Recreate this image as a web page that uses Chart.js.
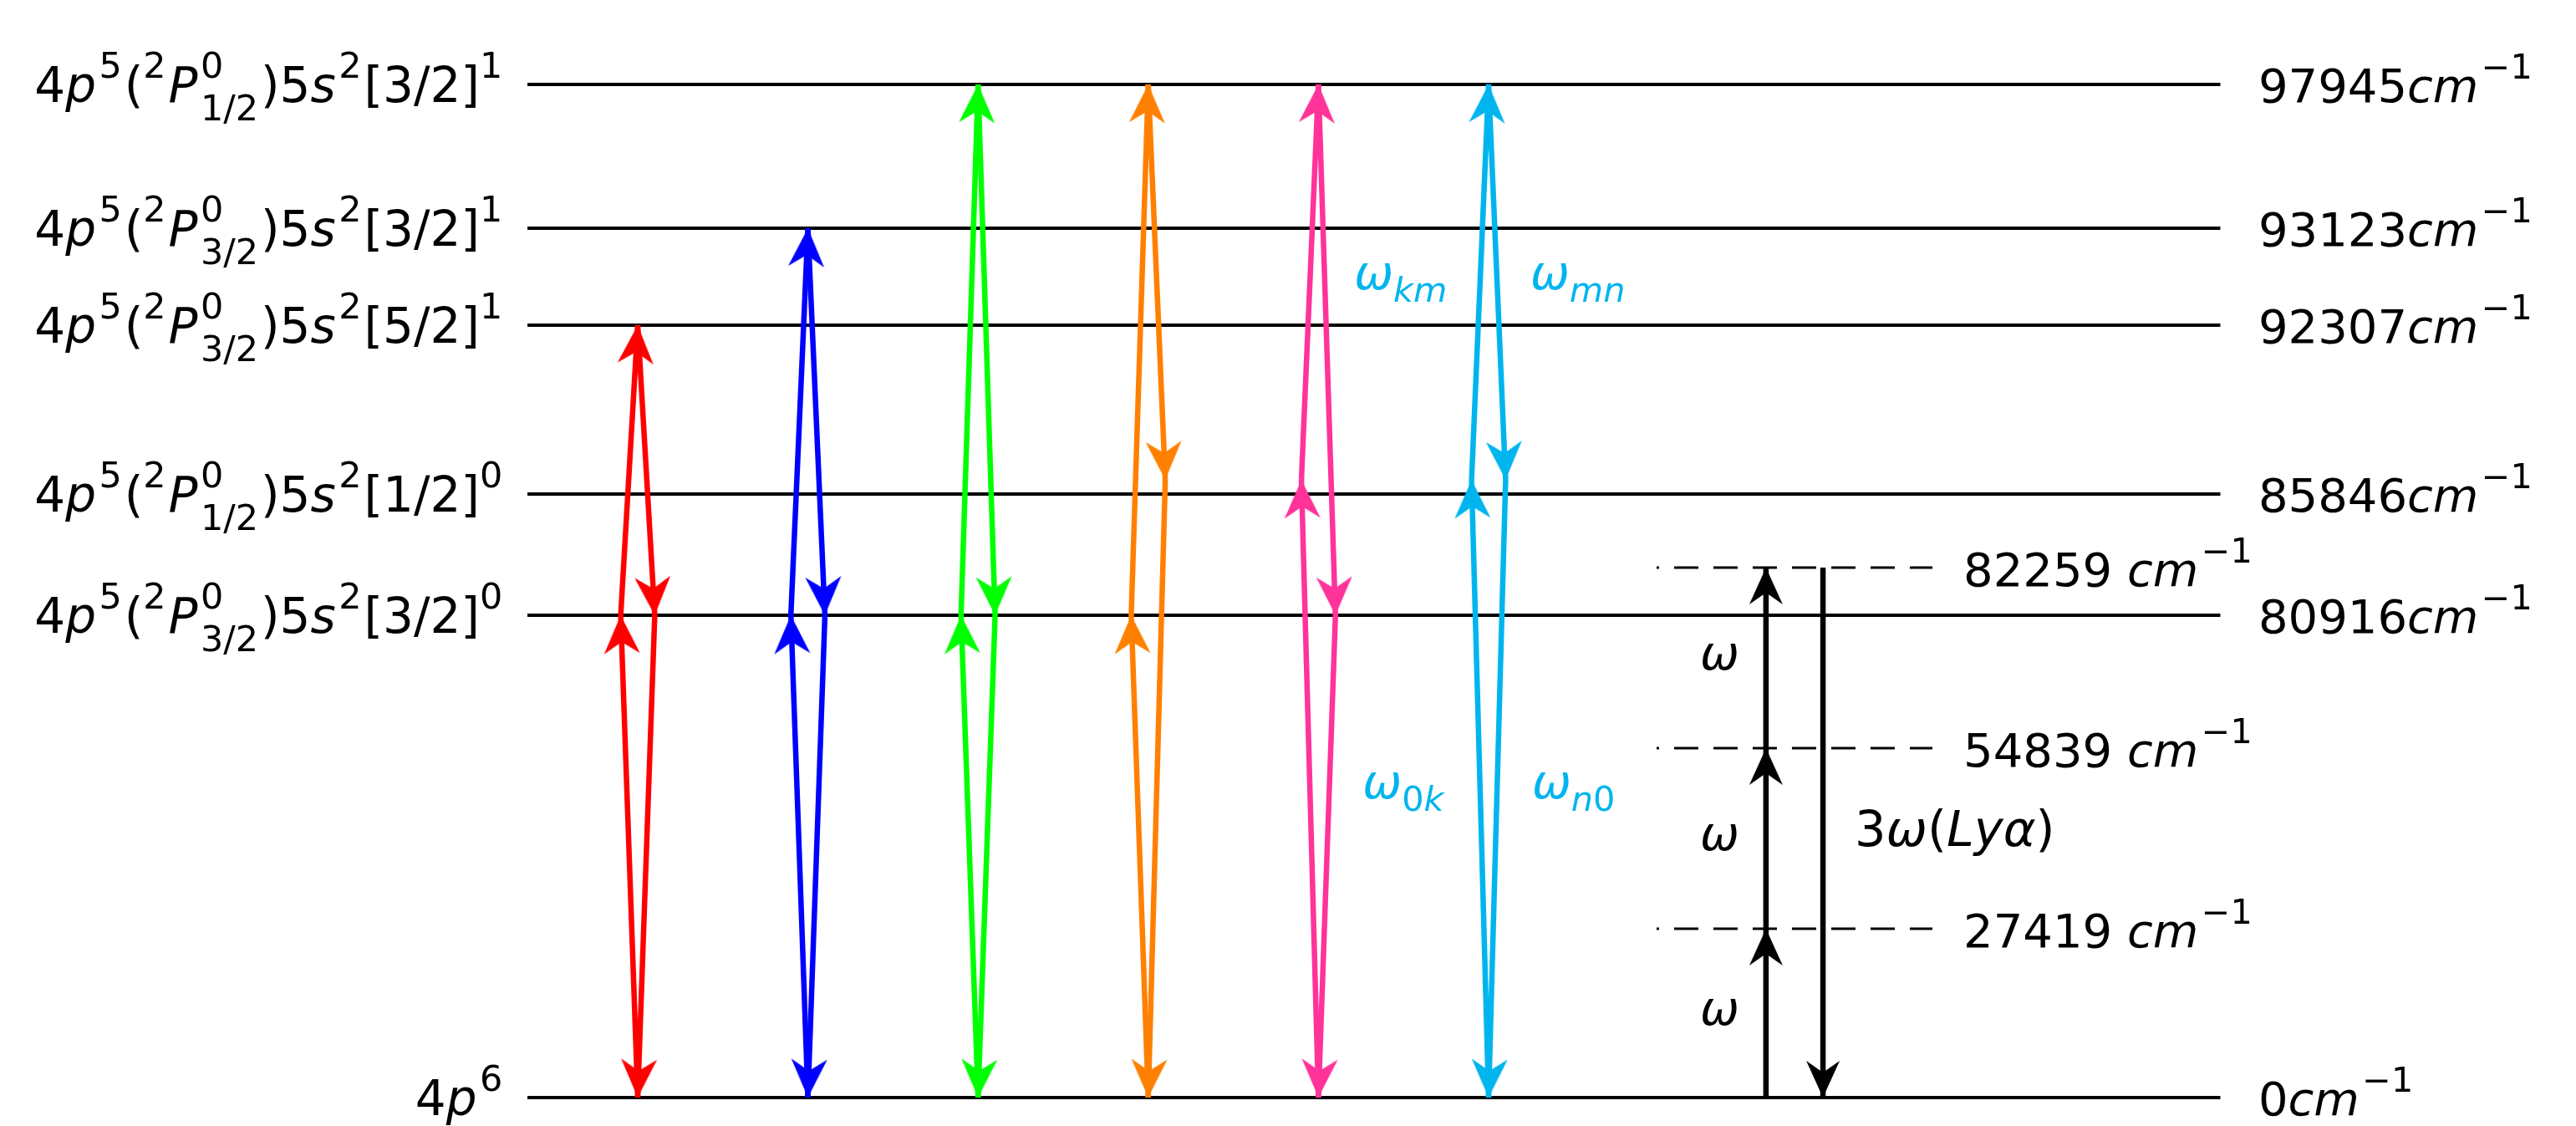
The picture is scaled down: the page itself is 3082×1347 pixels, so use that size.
<!DOCTYPE html>
<html>
<head>
<meta charset="utf-8">
<script src="https://cdn.jsdelivr.net/npm/chart.js@4.4.1/dist/chart.umd.min.js"></script>
<style>
  html, body { margin: 0; padding: 0; background: #fff; }
  #caja { width: 3082px; height: 1347px; }
</style>
</head>
<body>
<div id="caja"><canvas id="diagrama"></canvas></div>
<script>
// niveles (de abajo a arriba)
const nivelNombre = ['4p^6', '4p^5(^2P^0_{3/2})5s^2[3/2]^0', '4p^5(^2P^0_{1/2})5s^2[1/2]^0',
                     '4p^5(^2P^0_{3/2})5s^2[5/2]^1', '4p^5(^2P^0_{3/2})5s^2[3/2]^1', '4p^5(^2P^0_{1/2})5s^2[3/2]^1'];
const nivelEnergia = [0, 80916, 85846, 92307, 93123, 97945];
const nivelAltura = [0, 5.77, 7.22, 9.24, 10.40, 12.12]; // altura en el esquema (no es lineal)

// niveles virtuales del proceso de 3 fotones
const virtualEnergia = [27419, 54839, 82259];
const virtualAltura = [2.02, 4.18, 6.34];

// transiciones de colores: columna, nivel superior, punto intermedio de subida y de bajada
const transColor = ['#ff0000', '#0000ff', '#00ff00', '#ff8000', '#ff3399', '#00b5ee'];
const transColumna = [1, 2, 3, 4, 5, 6];
const transArriba = [9.24, 10.40, 12.12, 12.12, 12.12, 12.12];
const transViaSube = [5.77, 5.77, 5.77, 5.77, 7.39, 7.39];
const transViaBaja = [5.77, 5.77, 5.77, 7.39, 5.77, 7.39];

// rotulos de frecuencias
const omegaTexto = ['ω_{km}', 'ω_{mn}', 'ω_{0k}', 'ω_{n0}'];
const omegaX = [5.21, 6.245, 5.26, 6.255];
const omegaY = [9.67, 9.67, 3.58, 3.58];

// geometria del dibujo (en unidades de los ejes)
const xMin = -2.7475, xMax = 12.39, yMin = -0.34, yMax = 13.13;
const lineaDesde = 0.352, lineaHasta = 10.30;
const desvio = 0.1;
const xSube = 7.63, xBaja = 7.965;
const guionDesde = 6.987, guionHasta = 8.608;
const cian = '#00b5ee';

function punta(color, largo, ancho, muesca) {
  const c = document.createElement('canvas');
  const s = Math.ceil(largo * 2 + 4);
  c.width = s; c.height = s;
  const g = c.getContext('2d');
  const m = s / 2;
  g.fillStyle = color;
  g.beginPath();
  g.moveTo(m, m);
  g.lineTo(m + ancho / 2, m + largo);
  g.lineTo(m, m + largo - muesca);
  g.lineTo(m - ancho / 2, m + largo);
  g.closePath();
  g.fill();
  return c;
}

function giro(c) {
  if (!c.dataset || !c.chart.scales.x) return 0;
  const d = c.dataset.data, sx = c.chart.scales.x, sy = c.chart.scales.y;
  const dx = sx.getPixelForValue(d[1].x) - sx.getPixelForValue(d[0].x);
  const dy = sy.getPixelForValue(d[1].y) - sy.getPixelForValue(d[0].y);
  return Math.atan2(dx, -dy) * 180 / Math.PI;
}

function flecha(x0, y0, x1, y1, color, ancho, cabeza) {
  return {
    data: [{x: x0, y: y0}, {x: x1, y: y1}],
    showLine: true,
    borderColor: color,
    borderWidth: ancho,
    pointRadius: [0, 10],
    pointHoverRadius: 0,
    pointStyle: cabeza,
    rotation: giro,
    clip: false
  };
}

const datasets = [];

// flechas de colores
transColor.forEach((col, i) => {
  const cab = punta(col, 46, 43, 14);
  const c = transColumna[i];
  datasets.push(flecha(c, 0, c - desvio, transViaSube[i], col, 6.5, cab));
  datasets.push(flecha(c - desvio, transViaSube[i], c, transArriba[i], col, 6.5, cab));
  datasets.push(flecha(c, transArriba[i], c + desvio, transViaBaja[i], col, 6.5, cab));
  datasets.push(flecha(c + desvio, transViaBaja[i], c, 0, col, 6.5, cab));
});

// 3 fotones hacia arriba y Lyman alfa hacia abajo
const cabNegra = punta('#000', 44, 40, 14);
let base = 0;
virtualAltura.forEach(h => {
  datasets.push(flecha(xSube, base, xSube, h, '#000', 6.5, cabNegra));
  base = h;
});
datasets.push(flecha(xBaja, virtualAltura[2], xBaja, 0, '#000', 6.5, cabNegra));

// niveles virtuales punteados
virtualAltura.forEach(h => {
  datasets.push({
    data: [{x: guionDesde, y: h}, {x: guionHasta, y: h}],
    showLine: true, borderColor: '#000', borderWidth: 3,
    borderDash: [29, 18], borderDashOffset: 26, pointRadius: 0, pointHoverRadius: 0
  });
});

// niveles reales
nivelAltura.forEach(h => {
  datasets.push({
    data: [{x: lineaDesde, y: h}, {x: lineaHasta, y: h}],
    showLine: true, borderColor: '#000', borderWidth: 4.2, pointRadius: 0, pointHoverRadius: 0
  });
});

// texto tipo TeX muy simple: ^ y _ con un caracter o {grupo}
function leerTex(s) {
  const out = [];
  let i = 0;
  const grupo = () => {
    if (s[i] === '{') { const j = s.indexOf('}', i); const g = s.slice(i + 1, j); i = j + 1; return g; }
    return s[i++];
  };
  while (i < s.length) {
    const ch = s[i];
    if (ch === '^' || ch === '_') { i++; out.push({g: grupo(), pos: ch === '^' ? 'sup' : 'sub'}); }
    else { out.push({g: ch, pos: 'base'}); i++; }
  }
  return out;
}

function armarTex(ctx, s, size) {
  const items = leerTex(s);
  const glifos = [];
  let x = 0, prev = null, prevIni = 0, prevAncho = 0, prevItal = false;
  items.forEach(it => {
    const esc = it.pos !== 'base';
    const fs = esc ? size * 0.74 : size;
    const apilado = esc && prev && prev.pos !== 'base' && prev.pos !== it.pos;
    let ini = apilado ? prevIni : x;
    if (it.pos === 'sup' && prevItal && !apilado) ini += size * 0.06;
    let dy = 0;
    if (it.pos === 'sup') dy = -size * 0.5;
    if (it.pos === 'sub') dy = apilado ? size * 0.38 : size * 0.27;
    let cx = ini, ital = false;
    for (const c0 of it.g) {
      const ch = c0 === '-' ? '\u2212' : c0;
      ital = /[A-Za-z\u03b1-\u03c9]/.test(ch);
      const font = (ital ? 'italic ' : '') + fs + 'px "DejaVu Sans"';
      ctx.font = font;
      glifos.push({ch, font, x: cx, dy});
      cx += ctx.measureText(ch).width;
    }
    const w = cx - ini;
    x = apilado ? ini + Math.max(w, prevAncho) : cx;
    if (esc) x += size * 0.05;
    prev = it; prevIni = ini; prevAncho = w; prevItal = ital;
  });
  return {glifos, ancho: x};
}

function pintarTex(ctx, s, x, y, size, color, alinear) {
  const t = armarTex(ctx, s, size);
  const x0 = alinear === 'right' ? x - t.ancho : x;
  ctx.fillStyle = color;
  ctx.textBaseline = 'alphabetic';
  ctx.textAlign = 'left';
  t.glifos.forEach(g => { ctx.font = g.font; ctx.fillText(g.ch, x0 + g.x, y + g.dy); });
}

const rotulos = {
  id: 'rotulos',
  afterDatasetsDraw(chart) {
    const {ctx, scales: {x, y}} = chart;
    ctx.save();
    nivelNombre.forEach((n, i) => {
      pintarTex(ctx, n, x.getPixelForValue(0.22), y.getPixelForValue(nivelAltura[i]) + 21, 58, '#000', 'right');
      pintarTex(ctx, nivelEnergia[i] + 'cm^{-1}', x.getPixelForValue(10.523), y.getPixelForValue(nivelAltura[i]) + 21, 56, '#000', 'left');
    });
    virtualEnergia.forEach((e, i) => {
      pintarTex(ctx, e + ' cm^{-1}', x.getPixelForValue(8.79), y.getPixelForValue(virtualAltura[i]) + 22, 56, '#000', 'left');
    });
    omegaTexto.forEach((t, i) => {
      pintarTex(ctx, t, x.getPixelForValue(omegaX[i]), y.getPixelForValue(omegaY[i]), 56, cian, 'left');
    });
    let b = 0;
    virtualAltura.forEach(h => {
      pintarTex(ctx, 'ω', x.getPixelForValue(7.243), y.getPixelForValue((b + h) / 2) + 14, 56, '#000', 'left');
      b = h;
    });
    pintarTex(ctx, '3ω(Lyα)', x.getPixelForValue(8.151), y.getPixelForValue(3.01), 59, '#000', 'left');
    ctx.restore();
  }
};

new Chart(document.getElementById('diagrama'), {
  type: 'scatter',
  data: { datasets },
  options: {
    responsive: true,
    maintainAspectRatio: false,
    animation: false,
    devicePixelRatio: 1,
    events: [],
    layout: { padding: 0, autoPadding: false },
    scales: {
      x: { type: 'linear', min: xMin, max: xMax, display: false },
      y: { type: 'linear', min: yMin, max: yMax, display: false }
    },
    plugins: { legend: { display: false }, tooltip: { enabled: false } }
  },
  plugins: [rotulos]
});
</script>
</body>
</html>
